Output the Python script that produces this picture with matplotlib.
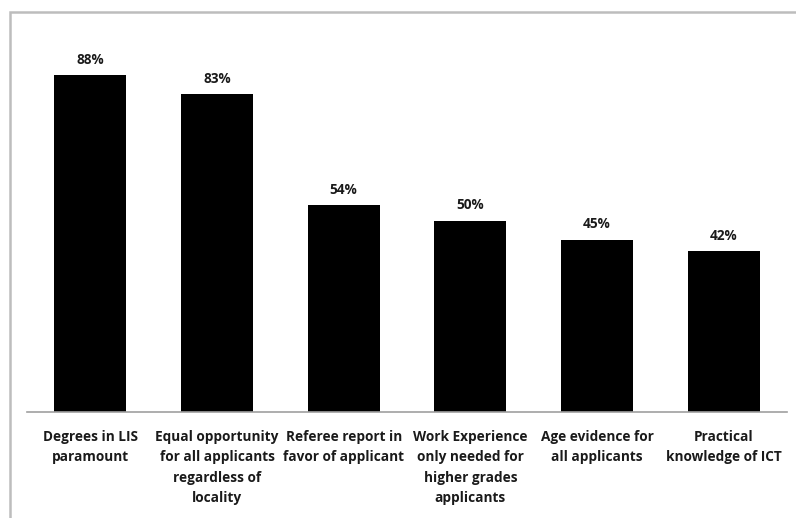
import matplotlib
matplotlib.use("Agg")
import matplotlib.pyplot as plt
from matplotlib.patches import Rectangle

categories = [
    "Degrees in LIS\nparamount",
    "Equal opportunity\nfor all applicants\nregardless of\nlocality",
    "Referee report in\nfavor of applicant",
    "Work Experience\nonly needed for\nhigher grades\napplicants",
    "Age evidence for\nall applicants",
    "Practical\nknowledge of ICT",
]
percentages = [88, 83, 54, 50, 45, 42]

W, H = 796, 518
fig = plt.figure(figsize=(W / 100, H / 100), dpi=100)
plt.rcParams["font.family"] = ["Open Sans", "DejaVu Sans"]

ax = fig.add_axes([27 / W, (H - 412) / H, 760 / W, 383 / H])
x = range(len(categories))
bars = ax.bar(x, percentages, width=0.57, color="black", zorder=2)

for rect, val in zip(bars, percentages):
    ax.text(
        rect.get_x() + rect.get_width() / 2,
        val + 2.2,
        "%d%%" % val,
        ha="center",
        va="bottom",
        fontsize=9.8,
        fontweight="bold",
        color="#1a1a1a",
    )

ax.set_xlim(-0.5, len(categories) - 0.5)
ax.set_ylim(0, 100)
ax.set_xticks(list(x))
ax.set_xticklabels(categories, fontsize=9.8, fontweight="bold", linespacing=1.58,
                   va="top", color="#1a1a1a")
ax.tick_params(axis="x", length=0, pad=13)
ax.set_yticks([])
for side in ("top", "left", "right"):
    ax.spines[side].set_visible(False)
ax.spines["bottom"].set_color("#a0a0a0")
ax.spines["bottom"].set_linewidth(1.2)

# outer chart frame, running off the right and bottom edges
frame = Rectangle(
    (9.5 / W, -0.05), 1.2, (H - 12) / H + 0.05,
    transform=fig.transFigure, fill=False, edgecolor="#bdbdbd", linewidth=1.8,
)
fig.patches.append(frame)

fig.savefig("out.png", dpi=100)
